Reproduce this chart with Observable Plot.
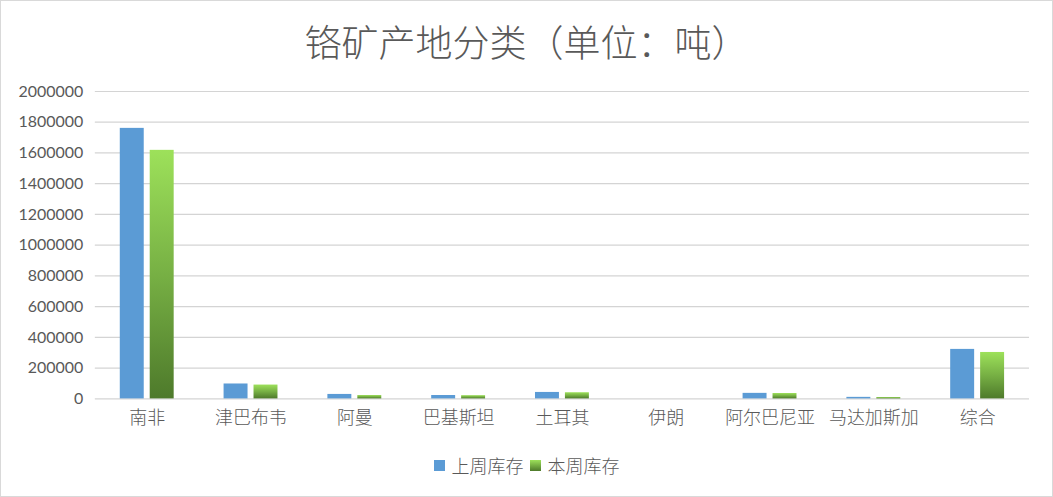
<!DOCTYPE html>
<html><head><meta charset="utf-8">
<script src="https://cdn.jsdelivr.net/npm/d3@7"></script>
<script src="https://cdn.jsdelivr.net/npm/@observablehq/plot@0.6"></script>
<style>
body{margin:0;background:#fff;}
#chart{position:relative;width:1051px;height:495px;border:1px solid #d9d9d9;background:#fff;overflow:hidden;}
#title{height:80px;display:flex;align-items:center;justify-content:center;font-family:"Noto Sans CJK SC",sans-serif;font-weight:300;font-size:37px;color:#595959;padding-left:0px;}
#plot svg{display:block;}
#legend{display:flex;justify-content:center;align-items:center;height:50px;margin-top:0px;font-family:"Noto Sans CJK SC",sans-serif;font-weight:300;font-size:18px;color:#595959;}
.sw{width:11px;height:11px;display:inline-block;margin-right:7px;}
.item{display:flex;align-items:center;margin:0 3px;}
</style></head>
<body>
<div id="chart">
<div id="title">铬矿产地分类（单位：吨）</div>
<div id="plot"></div>
<div id="legend"></div>
</div>
<script>
const categories = ["南非","津巴布韦","阿曼","巴基斯坦","土耳其","伊朗","阿尔巴尼亚","马达加斯加","综合"];
const seriesNames = ["上周库存","本周库存"];
const lastWeek = [1760000, 97000, 29000, 22000, 42000, 0, 36000, 10000, 322000];
const thisWeek = [1617000, 90000, 22000, 21000, 40000, 0, 35000, 9000, 302000];
const yTicks = [0,200000,400000,600000,800000,1000000,1200000,1400000,1600000,1800000,2000000];

const blue = "#5b9bd5";
const data1 = categories.map((c,i)=>({country:c, value:lastWeek[i]}));
const data2 = categories.map((c,i)=>({country:c, value:thisWeek[i]}));

const defs = () => {
  const g = d3.create("svg:defs");
  const lg = g.append("linearGradient").attr("id","greenGrad").attr("x1",0).attr("y1",0).attr("x2",0).attr("y2",1);
  lg.append("stop").attr("offset","0%").attr("stop-color","#9de15a");
  lg.append("stop").attr("offset","50%").attr("stop-color","#77b044");
  lg.append("stop").attr("offset","100%").attr("stop-color","#4e7a2b");
  return g.node();
};

const chart = Plot.plot({
  width: 1053,
  height: 360,
  marginTop: 10,
  marginBottom: 42,
  marginLeft: 94,
  marginRight: 23,
  style: {fontFamily: "Lato, 'Noto Sans CJK SC', sans-serif", fontSize: "16px", color: "#595959", background: "transparent"},
  x: {domain: categories, padding: 0, label: null, tickSize: 0, tickPadding: 12},
  y: {domain: [0, 2000000], ticks: yTicks, label: null, tickSize: 0, tickPadding: 12, tickFormat: d => String(d)},
  marks: [
    defs,
    Plot.ruleY(yTicks, {y: d => d, stroke: "#d4d4d4", strokeWidth: 1.2, strokeOpacity: 1}),
    Plot.barY(data1, {x: "country", y: "value", fill: blue, insetLeft: 25, insetRight: 55}),
    Plot.barY(data2, {x: "country", y: "value", fill: "url(#greenGrad)", insetLeft: 55, insetRight: 25}),
  ]
});
d3.select(chart).selectAll("g[aria-label='x-axis tick label']").style("font-size","18px").style("font-family","'Noto Sans CJK SC', sans-serif").style("font-weight","300");
document.getElementById("plot").appendChild(chart);

const legend = document.getElementById("legend");
const fills = [blue, "linear-gradient(#9de15a, #4e7a2b)"];
seriesNames.forEach((s,i)=>{
  const it = document.createElement("div"); it.className="item";
  const sw = document.createElement("span"); sw.className="sw"; sw.style.background = fills[i];
  const t = document.createElement("span"); t.textContent = s;
  it.appendChild(sw); it.appendChild(t); legend.appendChild(it);
});
</script>
</body></html>
